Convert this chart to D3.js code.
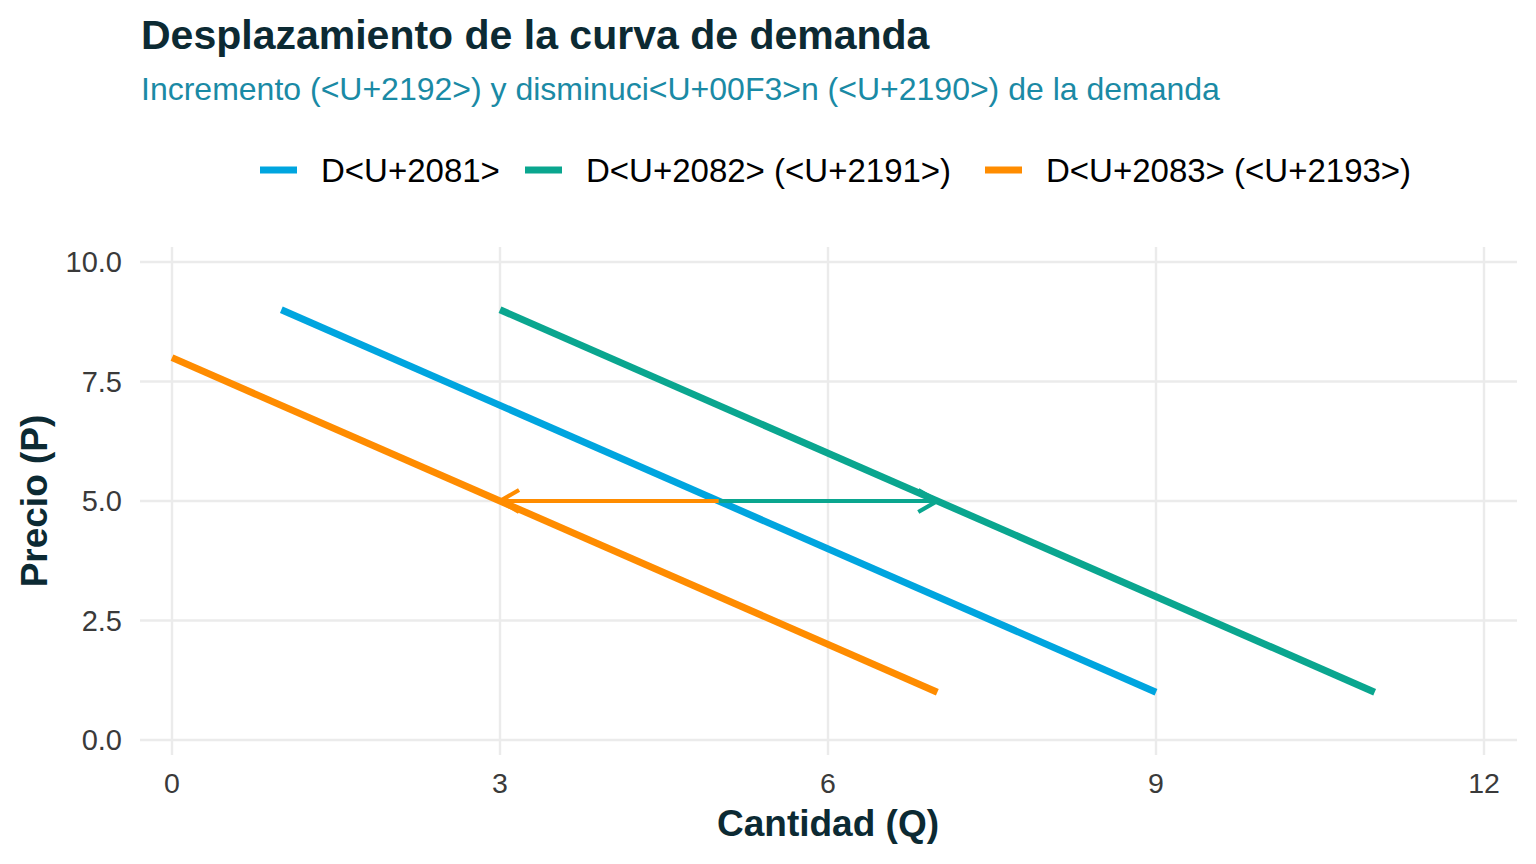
<!DOCTYPE html>
<html><head><meta charset="utf-8">
<script src="https://cdn.jsdelivr.net/npm/d3@7"></script>
<style>body{margin:0;background:#fff;} svg{display:block;font-family:"Liberation Sans",Arial,sans-serif;}</style>
</head><body>
<svg id="c" width="1536" height="864"></svg>
<script>
// Data
const seriesNames = ["D<U+2081>", "D<U+2082> (<U+2191>)", "D<U+2083> (<U+2193>)"];
const seriesColors = ["#00a5df", "#0aa68f", "#ff8c00"];
const d1Q = [1, 9], d1P = [9, 1];
const d2Q = [3, 11], d2P = [9, 1];
const d3Q = [0, 7], d3P = [8, 1];
const arrowFromQ = [5, 5], arrowToQ = [7, 3], arrowP = [5, 5];
const arrowColors = ["#0aa68f", "#ff8c00"];
const xTicks = [0, 3, 6, 9, 12];
const yTicks = [0, 2.5, 5, 7.5, 10];
const titleText = "Desplazamiento de la curva de demanda";
const subtitleText = "Incremento (<U+2192>) y disminuci<U+00F3>n (<U+2190>) de la demanda";
const xLabel = "Cantidad (Q)", yLabel = "Precio (P)";

const svg = d3.select("#c");
const panel = {x0: 140, x1: 1517, y0: 247, y1: 755};
const x = d3.scaleLinear().domain([0, 12]).range([172, 1484]);
const y = d3.scaleLinear().domain([0, 10]).range([740, 262]);

// grid
const g = svg.append("g");
g.selectAll(".vg").data(xTicks).join("line")
  .attr("x1", d => x(d)).attr("x2", d => x(d)).attr("y1", panel.y0).attr("y2", panel.y1)
  .attr("stroke", "#ebebeb").attr("stroke-width", 2.4);
g.selectAll(".hg").data(yTicks).join("line")
  .attr("y1", d => y(d)).attr("y2", d => y(d)).attr("x1", panel.x0).attr("x2", panel.x1)
  .attr("stroke", "#ebebeb").attr("stroke-width", 2.4);

// tick labels
svg.selectAll(".xt").data(xTicks).join("text")
  .attr("x", d => x(d)).attr("y", 793).attr("text-anchor", "middle")
  .attr("font-size", 28.5).attr("fill", "#3a3a3a").text(d => d);
svg.selectAll(".yt").data(yTicks).join("text")
  .attr("x", 122).attr("y", d => y(d) + 10).attr("text-anchor", "end")
  .attr("font-size", 29).attr("fill", "#3a3a3a").text(d => d3.format(".1f")(d));

// lines
const series = [[d1Q, d1P], [d2Q, d2P], [d3Q, d3P]];
const line = d3.line().x(d => x(d[0])).y(d => y(d[1]));
series.forEach((s, i) => {
  const pts = s[0].map((q, j) => [q, s[1][j]]);
  svg.append("path").attr("d", line(pts)).attr("fill", "none")
    .attr("stroke", seriesColors[i]).attr("stroke-width", 7);
});

// arrows
arrowFromQ.forEach((q0, i) => {
  const x0 = x(q0), x1 = x(arrowToQ[i]), yy = y(arrowP[i]);
  const col = arrowColors[i];
  svg.append("line").attr("x1", x0).attr("x2", x1).attr("y1", yy).attr("y2", yy)
    .attr("stroke", col).attr("stroke-width", 4.2);
  const dir = Math.sign(x1 - x0);
  const L = 22, ang = Math.PI / 6;
  const bx = x1 - dir * L * Math.cos(ang), by = L * Math.sin(ang);
  svg.append("path").attr("d", `M${bx},${yy - by}L${x1},${yy}L${bx},${yy + by}`)
    .attr("fill", "none").attr("stroke", col).attr("stroke-width", 4.2);
});

// axis titles
svg.append("text").attr("x", x(6)).attr("y", 836).attr("text-anchor", "middle")
  .attr("font-size", 37).attr("font-weight", "bold").attr("fill", "#0c2a33").text(xLabel);
svg.append("text").attr("transform", `translate(47,${(panel.y0 + panel.y1) / 2}) rotate(-90)`)
  .attr("text-anchor", "middle").attr("font-size", 37).attr("font-weight", "bold")
  .attr("fill", "#0c2a33").text(yLabel);

// title & subtitle
svg.append("text").attr("x", 141).attr("y", 49).attr("font-size", 41).attr("font-weight", "bold")
  .attr("fill", "#0c2a33").text(titleText);
svg.append("text").attr("x", 141).attr("y", 100).attr("font-size", 32)
  .attr("fill", "#1a8aa5").text(subtitleText);

// legend
const legendKeyX = [260, 525, 985];
const ly = 170;
seriesNames.forEach((n, i) => {
  const lx = legendKeyX[i];
  svg.append("line").attr("x1", lx).attr("x2", lx + 37).attr("y1", ly).attr("y2", ly)
    .attr("stroke", seriesColors[i]).attr("stroke-width", 7);
  svg.append("text").attr("x", lx + 61).attr("y", ly + 12).attr("font-size", 33)
    .attr("fill", "#000").text(n);
});
</script>
</body></html>
